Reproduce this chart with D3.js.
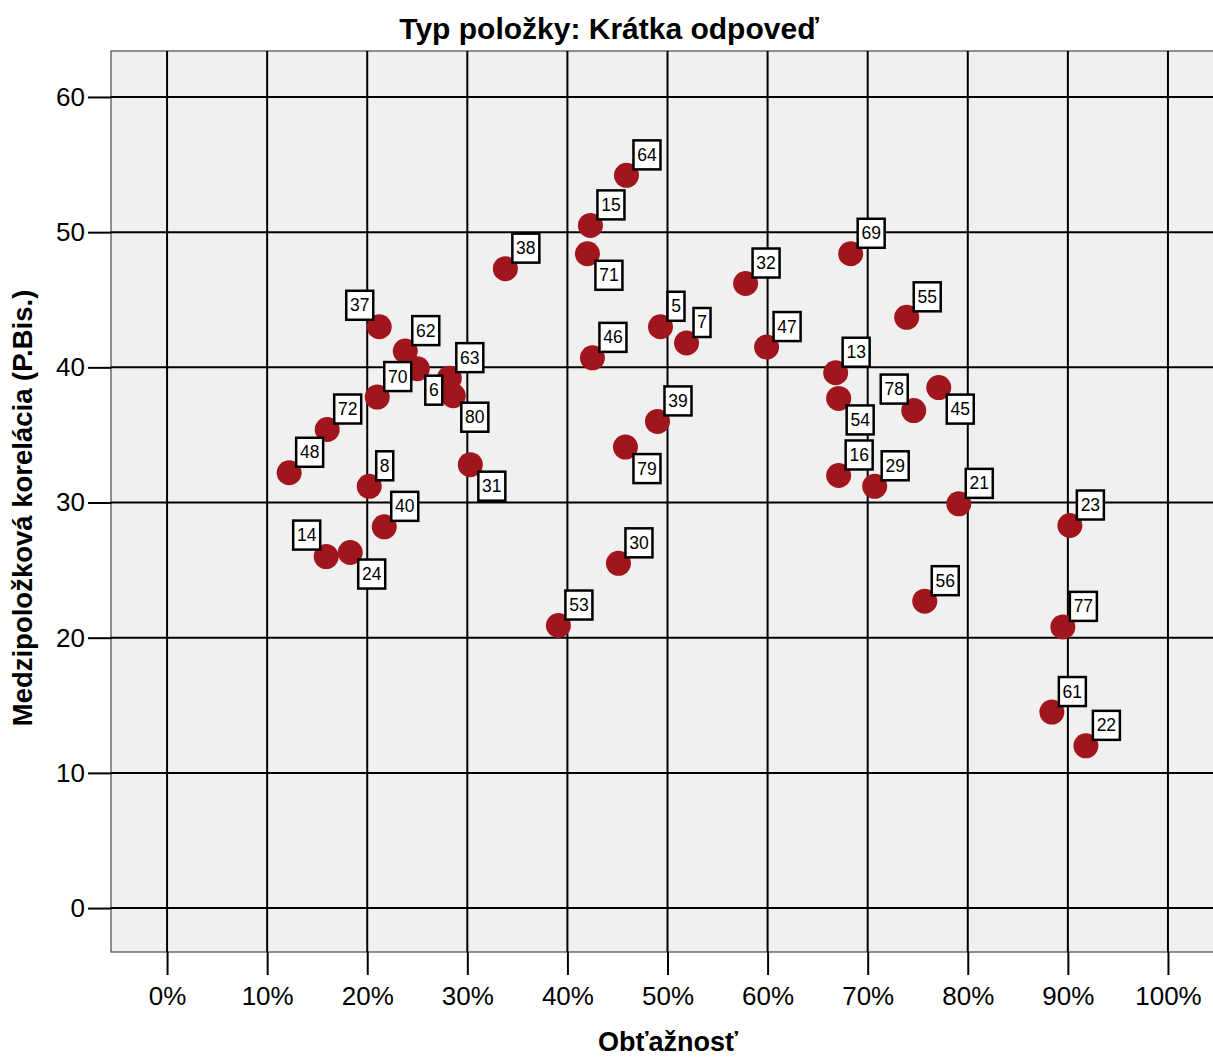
<!DOCTYPE html>
<html>
<head>
<meta charset="utf-8">
<script src="https://cdn.jsdelivr.net/npm/d3@7"></script>
<style>
  html, body { margin: 0; padding: 0; background: #ffffff; }
  svg { display: block; font-family: "Liberation Sans", Arial, sans-serif; }
</style>
</head>
<body>
<svg id="chart" width="1213" height="1059"></svg>
<script>
// ---- data ----
const itemIds = [48,72,37,62,6,63,80,70,8,31,40,14,24,38,64,15,71,5,7,46,39,79,30,53,32,47,69,55,13,54,78,45,16,29,21,56,23,77,61,22];
const difficulty = [12.2,16.0,21.2,23.8,25.0,28.2,28.6,21.0,20.2,30.3,21.7,15.9,18.3,33.8,45.9,42.3,42.0,49.3,51.9,42.5,49.0,45.8,45.1,39.1,57.8,59.9,68.3,73.9,66.8,67.1,74.6,77.1,67.1,70.7,79.1,75.7,90.2,89.5,88.4,91.8];
const correlation = [32.2,35.4,43.0,41.2,39.9,39.2,37.9,37.8,31.2,32.8,28.2,26.0,26.3,47.3,54.2,50.5,48.4,43.0,41.8,40.7,36.0,34.1,25.5,20.9,46.2,41.5,48.4,43.7,39.6,37.7,36.8,38.5,32.0,31.2,29.9,22.7,28.3,20.8,14.5,12.0];
const labelSide = ["ne","ne","nw","ne","se","ne","se","ne","ne","se","ne","nw","se","ne","ne","ne","se","ne","ne","ne","ne","se","ne","ne","ne","ne","ne","ne","ne","se","nw","se","ne","ne","ne","ne","ne","ne","ne","ne"];
const xTicks = [0,10,20,30,40,50,60,70,80,90,100];
const yTicks = [0,10,20,30,40,50,60];
const titleText = "Typ položky: Krátka odpoveď";
const xTitle = "Obťažnosť";
const yTitle = "Medzipoložková korelácia (P.Bis.)";

// ---- layout ----
const svg = d3.select("#chart");
const plot = {left: 111, top: 51, right: 1213, bottom: 952};
const x = d3.scaleLinear().domain([-5.6, 104.5]).range([plot.left, plot.right]);
const y = d3.scaleLinear().domain([-3.25, 63.4]).range([plot.bottom, plot.top]);

// background
svg.append("rect")
  .attr("x", plot.left).attr("y", plot.top)
  .attr("width", plot.right - plot.left + 2).attr("height", plot.bottom - plot.top)
  .attr("fill", "#f0f0f0").attr("stroke", "#4a4a4a").attr("stroke-width", 1.2);

// grid
const grid = svg.append("g");
grid.selectAll("line.vx").data(xTicks).join("line")
  .attr("x1", d => x(d)).attr("x2", d => x(d))
  .attr("y1", plot.top).attr("y2", plot.bottom)
  .attr("stroke", "#000").attr("stroke-width", 2);
grid.selectAll("line.hy").data(yTicks).join("line")
  .attr("x1", plot.left).attr("x2", plot.right + 2)
  .attr("y1", d => y(d)).attr("y2", d => y(d))
  .attr("stroke", "#000").attr("stroke-width", 2);

// axes
const xAxis = d3.axisBottom(x).tickValues(xTicks).tickSize(23).tickPadding(12).tickFormat(d => d + "%");
const yAxis = d3.axisLeft(y).tickValues(yTicks).tickSize(23).tickPadding(3);
const gx = svg.append("g").attr("transform", `translate(0,${plot.bottom})`).call(xAxis);
const gy = svg.append("g").attr("transform", `translate(${plot.left},0)`).call(yAxis);
[gx, gy].forEach(g => {
  g.select(".domain").remove();
  g.selectAll(".tick line").attr("stroke", "#000").attr("stroke-width", 2);
  g.selectAll(".tick text").attr("fill", "#000").style("font-size", "26px")
    .style("font-family", "'Liberation Sans', Arial, sans-serif");
});

// points
const pts = itemIds.map((id, i) => ({id, xv: difficulty[i], yv: correlation[i], side: labelSide[i]}));
svg.append("g").selectAll("circle").data(pts).join("circle")
  .attr("cx", d => x(d.xv)).attr("cy", d => y(d.yv)).attr("r", 12.5)
  .attr("fill", "#a1161c");

// labels
const lg = svg.append("g");
pts.forEach(d => {
  const cx = x(d.xv), cy = y(d.yv);
  const txt = String(d.id);
  const w = txt.length === 1 ? 17 : 27, h = 29;
  let bx, by;
  if (d.side === "ne") { bx = cx + 7; by = cy - 6 - h; }
  else if (d.side === "se") { bx = cx + 8; by = cy + 7; }
  else { bx = cx - 6 - w; by = cy - 7 - h; }
  lg.append("rect").attr("x", bx).attr("y", by).attr("width", w).attr("height", h)
    .attr("fill", "#fff").attr("stroke", "#000").attr("stroke-width", 2.5);
  lg.append("text").attr("x", bx + w / 2).attr("y", by + h / 2 + 6)
    .attr("text-anchor", "middle").style("font-size", "17.5px").attr("fill", "#000").text(txt);
});

// titles
svg.append("text").attr("x", 609).attr("y", 39).attr("text-anchor", "middle")
  .style("font-size", "30px").style("font-weight", "bold").text(titleText);
svg.append("text").attr("x", 668).attr("y", 1051).attr("text-anchor", "middle")
  .style("font-size", "27px").style("font-weight", "bold").text(xTitle);
svg.append("text").attr("transform", "translate(32,508) rotate(-90)").attr("text-anchor", "middle")
  .style("font-size", "27.5px").style("font-weight", "bold").text(yTitle);
</script>
</body>
</html>
